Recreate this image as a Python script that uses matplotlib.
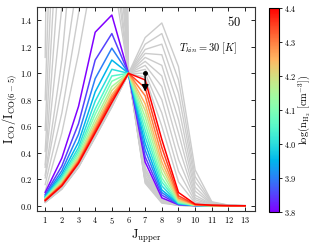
import matplotlib
matplotlib.use('Agg')
import matplotlib.pyplot as plt
import numpy as np

plt.rcParams['mathtext.fontset'] = 'cm'
plt.rcParams['font.family'] = 'serif'
plt.rcParams['font.serif'] = ['DejaVu Serif']

# J levels
j_upper = [1, 2, 3, 4, 5, 6, 7, 8, 9, 10, 11, 12, 13]

# coloured models: log(n_H2) = 3.80 ... 4.40
log_nh2 = [3.80, 3.85, 3.90, 3.95, 4.00, 4.05, 4.10, 4.15, 4.20, 4.25, 4.30, 4.35, 4.40]
r_380 = [0.100, 0.360, 0.750, 1.310, 1.440, 1.0, 0.330, 0.060, 0.008, 0.002, 0.001, 0.0, 0.0]
r_385 = [0.085, 0.300, 0.620, 1.100, 1.300, 1.0, 0.370, 0.080, 0.010, 0.002, 0.001, 0.0, 0.0]
r_390 = [0.075, 0.265, 0.540, 0.960, 1.190, 1.0, 0.420, 0.100, 0.012, 0.002, 0.001, 0.0, 0.0]
r_395 = [0.068, 0.240, 0.480, 0.860, 1.100, 1.0, 0.470, 0.120, 0.015, 0.003, 0.001, 0.0, 0.0]
r_400 = [0.062, 0.222, 0.440, 0.790, 1.030, 1.0, 0.520, 0.150, 0.018, 0.003, 0.001, 0.0, 0.0]
r_405 = [0.058, 0.208, 0.415, 0.730, 0.980, 1.0, 0.570, 0.180, 0.022, 0.003, 0.001, 0.0, 0.0]
r_410 = [0.055, 0.196, 0.395, 0.690, 0.940, 1.0, 0.620, 0.210, 0.027, 0.004, 0.001, 0.0, 0.0]
r_415 = [0.052, 0.185, 0.375, 0.650, 0.900, 1.0, 0.670, 0.250, 0.033, 0.004, 0.001, 0.0, 0.0]
r_420 = [0.049, 0.176, 0.360, 0.620, 0.870, 1.0, 0.720, 0.290, 0.040, 0.005, 0.001, 0.0, 0.0]
r_425 = [0.047, 0.169, 0.348, 0.600, 0.840, 1.0, 0.770, 0.330, 0.050, 0.006, 0.002, 0.0, 0.0]
r_430 = [0.045, 0.162, 0.338, 0.580, 0.820, 1.0, 0.830, 0.380, 0.060, 0.007, 0.002, 0.0, 0.0]
r_435 = [0.043, 0.156, 0.329, 0.565, 0.800, 1.0, 0.890, 0.440, 0.075, 0.009, 0.003, 0.0, 0.0]
r_440 = [0.038, 0.150, 0.320, 0.550, 0.780, 1.0, 0.950, 0.500, 0.100, 0.012, 0.004, 0.001, 0.0]
colored = [r_380, r_385, r_390, r_395, r_400, r_405, r_410, r_415, r_420, r_425, r_430, r_435, r_440]

# grey background models, low excitation (run off the top at low J)
g_low = [
    [1.12, 11.0, 16.0, 18.0, 12.0, 1.0, 0.17, 0.020, 0.003, 0.0, 0.0, 0.0, 0.0],
    [0.80, 4.7, 9.0, 11.0, 8.0, 1.0, 0.18, 0.025, 0.003, 0.0, 0.0, 0.0, 0.0],
    [0.57, 3.5, 7.0, 8.0, 6.0, 1.0, 0.19, 0.030, 0.004, 0.0, 0.0, 0.0, 0.0],
    [0.41, 2.7, 5.0, 6.0, 4.5, 1.0, 0.20, 0.030, 0.004, 0.0, 0.0, 0.0, 0.0],
    [0.31, 2.05, 3.8, 4.8, 3.5, 1.0, 0.21, 0.035, 0.005, 0.0, 0.0, 0.0, 0.0],
    [0.29, 1.5, 2.7, 3.8, 3.0, 1.0, 0.22, 0.040, 0.005, 0.0, 0.0, 0.0, 0.0],
    [0.23, 1.1, 2.5, 3.2, 2.6, 1.0, 0.24, 0.040, 0.005, 0.0, 0.0, 0.0, 0.0],
    [0.21, 0.9, 1.75, 2.7, 2.2, 1.0, 0.26, 0.045, 0.006, 0.0, 0.0, 0.0, 0.0],
    [0.16, 0.7, 1.45, 2.3, 2.0, 1.0, 0.27, 0.050, 0.006, 0.0, 0.0, 0.0, 0.0],
    [0.11, 0.55, 1.15, 1.85, 1.8, 1.0, 0.29, 0.050, 0.007, 0.0, 0.0, 0.0, 0.0],
]
# grey background models, high excitation (peak at J=7-8)
g_high = [
    [0.025, 0.125, 0.290, 0.515, 0.745, 1.0, 1.27, 1.38, 1.05, 0.27, 0.030, 0.005, 0.001],
    [0.026, 0.127, 0.292, 0.518, 0.748, 1.0, 1.22, 1.30, 0.95, 0.22, 0.025, 0.004, 0.001],
    [0.027, 0.129, 0.294, 0.521, 0.751, 1.0, 1.18, 1.22, 0.85, 0.18, 0.020, 0.003, 0.0],
    [0.028, 0.131, 0.296, 0.524, 0.754, 1.0, 1.15, 1.14, 0.75, 0.14, 0.016, 0.003, 0.0],
    [0.029, 0.133, 0.298, 0.527, 0.757, 1.0, 1.12, 1.06, 0.65, 0.11, 0.013, 0.002, 0.0],
    [0.030, 0.135, 0.300, 0.530, 0.760, 1.0, 1.09, 0.98, 0.55, 0.08, 0.010, 0.002, 0.0],
    [0.031, 0.137, 0.302, 0.533, 0.763, 1.0, 1.06, 0.90, 0.45, 0.06, 0.008, 0.001, 0.0],
    [0.032, 0.139, 0.304, 0.536, 0.766, 1.0, 1.03, 0.80, 0.35, 0.045, 0.006, 0.001, 0.0],
    [0.033, 0.141, 0.306, 0.539, 0.769, 1.0, 1.00, 0.70, 0.26, 0.030, 0.004, 0.0, 0.0],
    [0.034, 0.143, 0.308, 0.542, 0.772, 1.0, 0.97, 0.60, 0.18, 0.020, 0.003, 0.0, 0.0],
]

# arrow at J=7
arrow_j = 7
arrow_from = 1.0
arrow_to = 0.84

fig = plt.figure(figsize=(3.15, 2.44), dpi=100)
ax = fig.add_axes([0.117, 0.135, 0.693, 0.836])
cax = fig.add_axes([0.854, 0.131, 0.032, 0.836])

for g in g_low + g_high:
    ax.plot(j_upper, g, color='#cccccc', lw=1.0, zorder=1)

cmap = plt.get_cmap('rainbow')
norm = matplotlib.colors.Normalize(vmin=3.8, vmax=4.4)
for n, r in zip(log_nh2, colored):
    ax.plot(j_upper, r, color=cmap(norm(n)), lw=1.1, zorder=2)

ax.plot(arrow_j, arrow_from, 'ko', ms=2.5, zorder=5)
ax.annotate('', xy=(arrow_j, arrow_to), xytext=(arrow_j, arrow_from),
            arrowprops=dict(arrowstyle='-|>', color='k', lw=1.0, mutation_scale=10),
            zorder=5)

ax.text(12.33, 1.385, r'$\mathbf{50}$', fontsize=9, ha='center', va='center')
ax.text(10.8, 1.19, r'$T_{kin} = 30\ [K]$', fontsize=7.5, ha='center', va='center')

ax.set_xlim(0.5, 13.6)
ax.set_ylim(-0.04, 1.5)
ax.set_xticks(j_upper, [r'$%d$' % j for j in j_upper])
yt = [0.0, 0.2, 0.4, 0.6, 0.8, 1.0, 1.2, 1.4]
ax.set_yticks(yt, [r'$%.1f$' % y for y in yt])
ax.tick_params(direction='in', top=True, right=True, labelsize=6, length=3, width=0.6, pad=3)
for s in ax.spines.values():
    s.set_linewidth(0.8)
    s.set_color('#333333')

ax.set_xlabel(r'$\mathrm{J_{upper}}$', fontsize=9, labelpad=1)
ax.set_ylabel(r'$\mathrm{I_{CO}/I_{CO(6-5)}}$', fontsize=9, labelpad=1)

sm = matplotlib.cm.ScalarMappable(norm=norm, cmap=cmap)
cb = fig.colorbar(sm, cax=cax)
ct = [3.8, 3.9, 4.0, 4.1, 4.2, 4.3, 4.4]
cb.set_ticks(ct, labels=[r'$%.1f$' % c for c in ct])
cb.ax.tick_params(labelsize=6, length=2.5, width=0.6, pad=1)
cb.outline.set_linewidth(0.8)
cb.set_label(r'$\log(\mathrm{n_{H_2}}\ [\mathrm{cm^{-3}}])$', fontsize=7.5)
cb.ax.yaxis.set_label_coords(3.5, 0.5)
cb.ax.yaxis.label.set_va('center')

plt.savefig('out.png', dpi=100)
